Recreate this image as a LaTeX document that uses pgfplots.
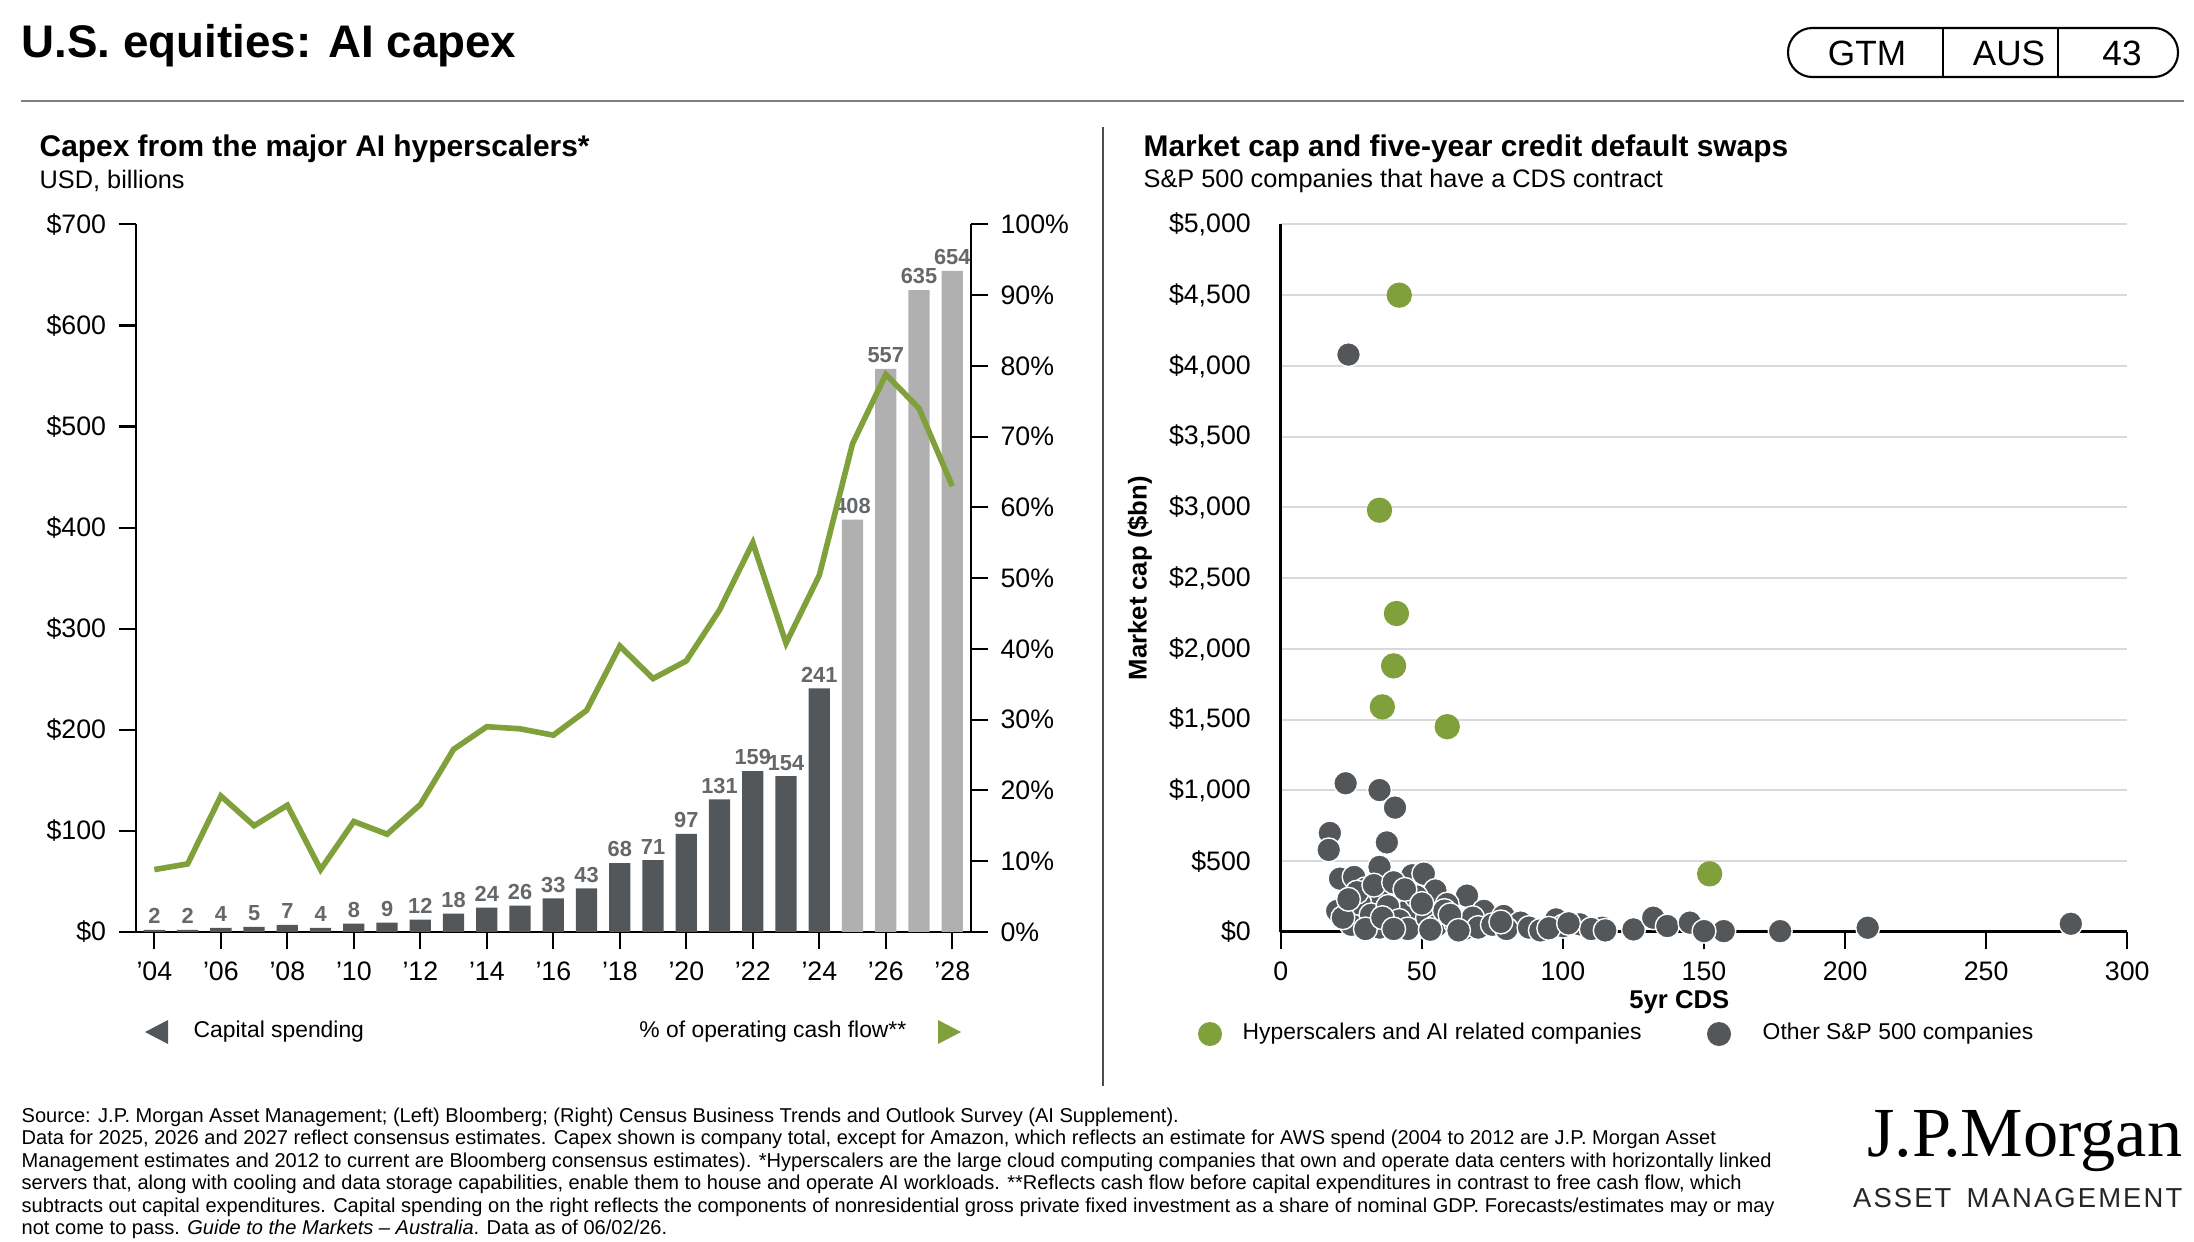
\documentclass[border=0pt]{standalone}
\usepackage{pgfplots}
\pgfplotsset{compat=1.18}
\usepackage{fontspec}
\setmainfont{Liberation Sans}
\newfontfamily\serifjp{Liberation Serif}
\definecolor{dg}{HTML}{54575A}
\definecolor{lg}{HTML}{B0B0B0}
\definecolor{gr}{HTML}{7FA03A}
\pgfplotstableread{
yr capex
2004 2
2005 2
2006 4
2007 5
2008 7
2009 4
2010 8
2011 9
2012 12
2013 18
2014 24
2015 26
2016 33
2017 43
2018 68
2019 71
2020 97
2021 131
2022 159
2023 154
2024 241
}\capex
\pgfplotstableread{
yr capex
2025 408
2026 557
2027 635
2028 654
}\capexf
\pgfplotstableread{
yr pct
2004 8.8
2005 9.6
2006 19.2
2007 15.0
2008 17.9
2009 8.8
2010 15.6
2011 13.8
2012 18.0
2013 25.8
2014 29.0
2015 28.7
2016 27.8
2017 31.3
2018 40.4
2019 35.8
2020 38.3
2021 45.5
2022 55.0
2023 40.8
2024 50.4
2025 69.0
2026 78.8
2027 74.0
2028 63.0
}\pct
\pgfplotstableread{
x y
42 4500
35 2980
41 2250
40 1880
36 1590
59 1450
152 410
}\green
\pgfplotstableread{
x y
24 4080
23 1050
35 1002
40.5 878
17.4 699
17 579
37.6 632
35 459
21 376
26 388
46.6 400
50.7 411
30 304
54.8 292
20 148
66 256
59 196
45.5 160
36 244
72 148
79 112
85 65
97.6 88
106 53
114 29
125 17
132 100
137 41
145 65
157 5
150 5
177 5
208 29
280 57
25 50
28 200
32 120
35 30
38 180
42 80
45 20
48 250
52 100
55 40
58 150
62 60
65 20
68 100
70 30
75 50
80 20
88 30
92 10
100 40
110 20
115 10
30 20
22 100
27 280
33 330
40 350
44 300
50 200
60 120
24 230
36 100
40 20
53 15
63 10
78 70
95 25
102 60
}\grey
\begin{document}
\begin{tikzpicture}
\begin{scope}[x=0.01cm,y=0.01cm]
\path[use as bounding box] (0,0) rectangle (2194,1241);
% header
\node[anchor=west,inner sep=0pt,font=\fontsize{13}{15}\selectfont\bfseries] at (21,1195) {U.S. equities: AI capex};
\draw[line width=0.6pt,rounded corners=6.9pt] (1788,1164) rectangle (2178,1213);
\draw[line width=0.6pt] (1943,1164) -- (1943,1213) (2058,1164) -- (2058,1213);
\node[font=\fontsize{10}{12}\selectfont] at (1867,1188) {GTM};
\node[font=\fontsize{10}{12}\selectfont] at (2009,1188) {AUS};
\node[font=\fontsize{10}{12}\selectfont] at (2122,1188) {43};
\draw[line width=0.4pt,gray] (21,1140) -- (2184,1140);
\draw[line width=0.4pt,black!70] (1103,1114) -- (1103,155);
% titles
\node[anchor=west,inner sep=0pt,font=\fontsize{8.5}{10}\selectfont\bfseries] at (39,1092) {Capex from the major AI hyperscalers*};
\node[anchor=west,inner sep=0pt,font=\fontsize{7.2}{9}\selectfont] at (39,1060) {USD, billions};
\node[anchor=west,inner sep=0pt,font=\fontsize{8.5}{10}\selectfont\bfseries] at (1143,1092) {Market cap and five-year credit default swaps};
\node[anchor=west,inner sep=0pt,font=\fontsize{7.2}{9}\selectfont] at (1143,1060) {S\&P 500 companies that have a CDS contract};
% legends
\fill[dg] (145,209) -- (168,221) -- (168,197) -- cycle;
\node[anchor=west,inner sep=0pt,font=\fontsize{6.5}{8}\selectfont] at (193,209) {Capital spending};
\node[anchor=east,inner sep=0pt,font=\fontsize{6.5}{8}\selectfont] at (907,209) {\% of operating cash flow**};
\fill[gr] (961,209) -- (938,221) -- (938,197) -- cycle;
\fill[gr] (1210,207) circle (12);
\node[anchor=west,inner sep=0pt,font=\fontsize{6.5}{8}\selectfont] at (1242,207) {Hyperscalers and AI related companies};
\fill[dg] (1719,207) circle (12);
\node[anchor=west,inner sep=0pt,font=\fontsize{6.5}{8}\selectfont] at (1762,207) {Other S\&P 500 companies};
% footnote
\node[anchor=north west,align=left,inner sep=0pt,font=\fontsize{5.7}{6.4}\selectfont] at (21,134) {Source: J.P. Morgan Asset Management; (Left) Bloomberg; (Right) Census Business Trends and Outlook Survey (AI Supplement).\\
Data for 2025, 2026 and 2027 reflect consensus estimates. Capex shown is company total, except for Amazon, which reflects an estimate for AWS spend (2004 to 2012 are J.P. Morgan Asset\\
Management estimates and 2012 to current are Bloomberg consensus estimates). *Hyperscalers are the large cloud computing companies that own and operate data centers with horizontally linked\\
servers that, along with cooling and data storage capabilities, enable them to house and operate AI workloads. **Reflects cash flow before capital expenditures in contrast to free cash flow, which\\
subtracts out capital expenditures. Capital spending on the right reflects the components of nonresidential gross private fixed investment as a share of nominal GDP. Forecasts/estimates may or may\\
not come to pass. \textit{Guide to the Markets -- Australia}. Data as of 06/02/26.};
\node[anchor=east,inner sep=0pt,font=\serifjp\fontsize{20}{22}\selectfont] at (2183,100) {J.P.Morgan};
\node[anchor=east,inner sep=0pt,font=\fontsize{7.8}{10}\selectfont,text=black!85] at (2183,43) {A\kern.6pt S\kern.6pt S\kern.6pt E\kern.6pt T\ \ M\kern.6pt A\kern.6pt N\kern.6pt A\kern.6pt G\kern.6pt E\kern.6pt M\kern.6pt E\kern.6pt N\kern.6pt T};
\end{scope}
% left chart
\begin{axis}[at={(1.36cm,3.09cm)},anchor=south west,scale only axis,width=8.34cm,height=7.07cm,
 xmin=2003.45,xmax=2028.55,ymin=0,ymax=700,
 axis x line*=bottom,axis y line*=left,
 xtick={2004,2006,...,2028},xticklabels={'04,'06,'08,'10,'12,'14,'16,'18,'20,'22,'24,'26,'28},
 ytick={0,100,...,700},yticklabel={\$\pgfmathprintnumber{\tick}},
 tick style={black,line width=0.6pt},major tick length=5pt,tick align=outside,
 ticklabel style={font=\fontsize{7.6}{9}\selectfont},
 /pgf/number format/assume math mode=true,
 axis line style={line width=0.6pt},
 bar width=0.64,
 nodes near coords,every node near coord/.append style={font=\fontsize{6.2}{7}\selectfont\bfseries,text=dg!90,inner sep=1.5pt},
 /pgf/number format/1000 sep={}]
\addplot[ybar,fill=dg,draw=none] table[x=yr,y=capex]{\capex};
\addplot[ybar,fill=lg,draw=none] table[x=yr,y=capex]{\capexf};
\end{axis}
\begin{axis}[at={(1.36cm,3.09cm)},anchor=south west,scale only axis,width=8.34cm,height=7.07cm,
 xmin=2003.45,xmax=2028.55,ymin=0,ymax=100,
 axis x line=none,axis y line*=right,
 ytick={0,10,...,100},yticklabel={\pgfmathprintnumber{\tick}\%},
 tick style={black,line width=0.6pt},major tick length=5pt,tick align=outside,
 ticklabel style={font=\fontsize{7.6}{9}\selectfont},
 /pgf/number format/assume math mode=true,
 axis line style={line width=0.6pt}]
\addplot[gr,line width=1.6pt] table[x=yr,y=pct]{\pct};
\end{axis}
% right chart
\begin{axis}[at={(12.8cm,3.09cm)},anchor=south west,scale only axis,width=8.46cm,height=7.07cm,
 xmin=0,xmax=300,ymin=0,ymax=5000,
 axis x line*=bottom,axis y line*=left,
 xtick={0,50,...,300},ytick={0,500,...,5000},
 yticklabel={\$\pgfmathprintnumber{\tick}},
 /pgf/number format/1000 sep={,},
 ymajorgrids,grid style={black!15,line width=0.6pt},
 tick style={black,line width=0.6pt},major tick length=5pt,tick align=outside,
 ytick style={draw=none},
 ticklabel style={font=\fontsize{7.6}{9}\selectfont},
 /pgf/number format/assume math mode=true,
 axis line style={line width=0.8pt},
 xlabel={5yr CDS},ylabel={Market cap (\$bn)},
 label style={font=\fontsize{7.3}{9}\selectfont\bfseries},
 xlabel style={yshift=4pt,xshift=-7pt},ylabel style={yshift=-2pt},
 clip=false]
\addplot[only marks,mark=*,mark size=3.4pt,mark options={fill=dg,draw=white,line width=0.4pt}] table[x=x,y=y]{\grey};
\addplot[only marks,mark=*,mark size=3.4pt,mark options={fill=gr,draw=gr}] table[x=x,y=y]{\green};
\end{axis}
\end{tikzpicture}
\end{document}
